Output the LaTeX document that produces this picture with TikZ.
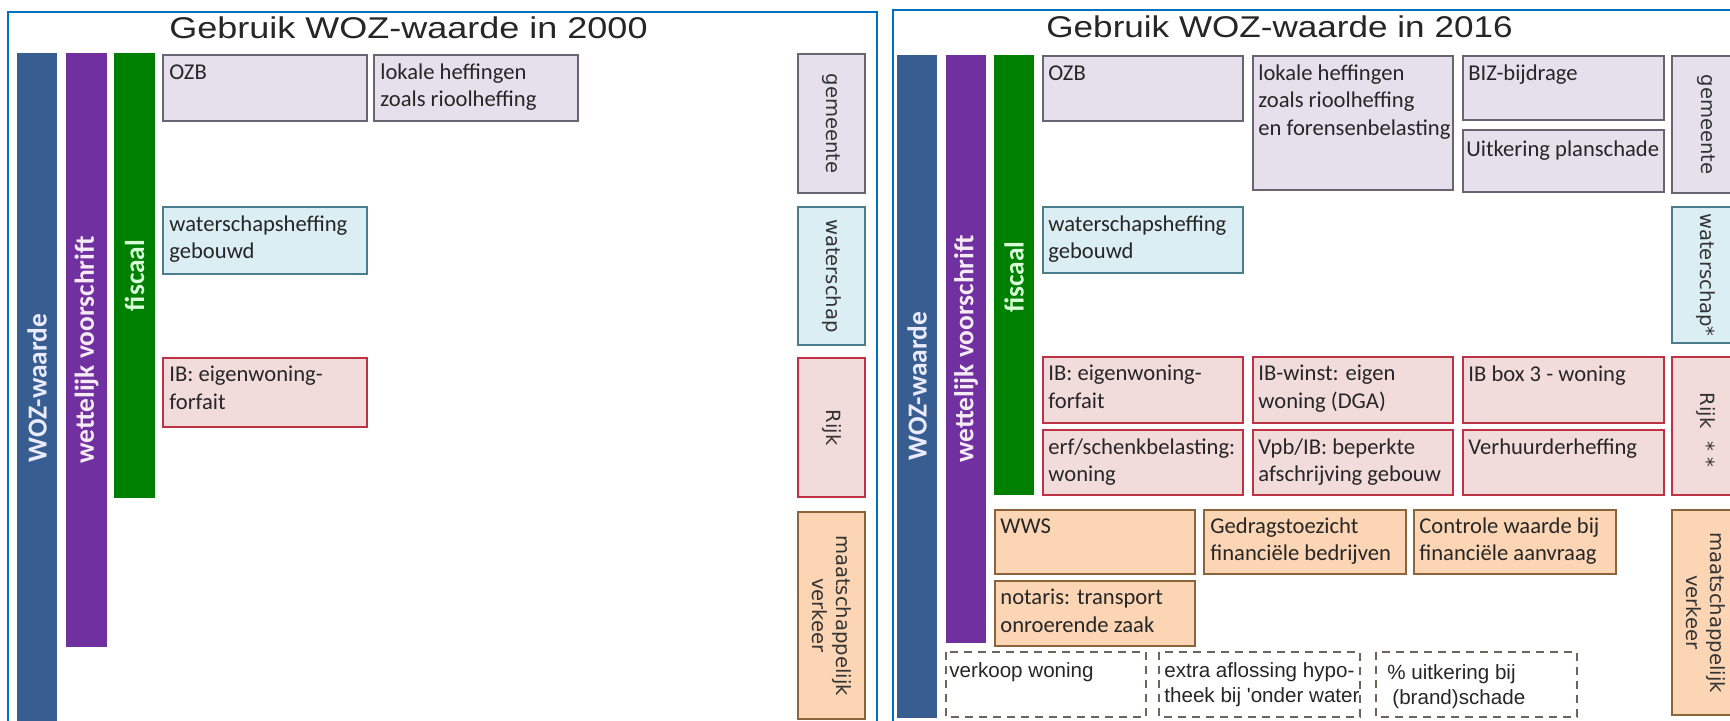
\documentclass[tikz,border=0pt]{standalone}
\usepackage{fontspec}
\setmainfont{Liberation Sans}
\newfontfamily\carlito{Carlito}
\newfontfamily\dejavu{DejaVu Sans}
\newfontfamily\titelfont[FakeStretch=1.2]{Liberation Sans}
\newfontfamily\titelfontB[FakeStretch=1.17]{Liberation Sans}
\definecolor{kaderblauw}{RGB}{0,112,192}
\definecolor{wozblauw}{RGB}{56,94,145}
\definecolor{wetpaars}{RGB}{112,48,160}
\definecolor{fiscgroen}{RGB}{0,128,0}
\definecolor{gemvul}{RGB}{229,224,236}
\definecolor{gemrand}{RGB}{105,100,115}
\definecolor{watvul}{RGB}{219,238,244}
\definecolor{watrand}{RGB}{75,125,140}
\definecolor{rijkvul}{RGB}{242,220,219}
\definecolor{rijkrand}{RGB}{190,50,70}
\definecolor{maatvul}{RGB}{252,213,180}
\definecolor{maatrand}{RGB}{140,100,60}
\definecolor{stiprand}{RGB}{110,100,90}

\begin{document}
\begin{tikzpicture}[x=0.5pt, y=-0.5pt,
    kader/.style={draw=kaderblauw, line width=1pt},
    titel/.style={anchor=base west, inner sep=0, text=black!85, font=\titelfont\fontsize{15}{18}\selectfont},
    vak/.style={line width=1.2pt},
    gem/.style={vak, draw=gemrand, fill=gemvul},
    wat/.style={vak, draw=watrand, fill=watvul},
    rijk/.style={vak, draw=rijkrand, fill=rijkvul},
    maat/.style={vak, draw=maatrand, fill=maatvul},
    stip/.style={draw=stiprand, line width=1.1pt, dash pattern=on 4pt off 3pt},
    tekst/.style={anchor=north west, inner sep=0, align=left, text=black!85,
      execute at begin node={\rule{0pt}{8pt}}, font=\carlito\fontsize{11.3}{13.75}\selectfont},
    stiptekst/.style={tekst, font=\fontsize{10.3}{12.5}\selectfont},
    balk/.style={rotate=90, inner sep=0, font=\carlito\bfseries\fontsize{13.7}{15}\selectfont},
    laag/.style={rotate=-90, align=center, inner sep=0, text=black!80, font=\dejavu\fontsize{9.8}{12}\selectfont}
  ]
  \useasboundingbox (0,0) rectangle (1730,721);
  \clip (0,0) rectangle (1730,721);

  % 2000
  \draw[kader] (8,12) rectangle (877,740);
  \node[titel] (titelA) at (169,39) {Gebruik WOZ-waarde in 2000};
  \fill[wozblauw] (17,53) rectangle (57,730);
  \fill[wetpaars] (66,53) rectangle (107,647);
  \fill[fiscgroen] (114,53) rectangle (155,498);
  \node[balk, text=blue!8] (wozA) at (37,388) {WOZ-waarde};
  \node[balk, text=violet!8] (wetA) at (86.5,350) {wettelijk voorschrift};
  \node[balk, text=green!15] (fiscA) at (134.5,275.5) {fiscaal};
  \draw[gem] (163,55) rectangle (367,121);
  \node[tekst] (ozbA) at (169,63) {OZB};
  \draw[gem] (374,55) rectangle (578,121);
  \node[tekst] (heffA) at (380,63) {lokale heffingen\\zoals rioolheffing};
  \draw[wat] (163,207) rectangle (367,274);
  \node[tekst] (watheffA) at (169,215) {waterschapsheffing\\gebouwd};
  \draw[rijk] (163,358) rectangle (367,427);
  \node[tekst] (forfA) at (169,366) {IB: eigenwoning-\\forfait};
  \draw[gem] (798,54) rectangle (865,193);
  \node[laag] (gemA) at (831.5,123.5) {gemeente};
  \draw[wat] (798,207) rectangle (865,345);
  \node[laag] (watA) at (831.5,276) {waterschap};
  \draw[rijk] (798,358) rectangle (865,497);
  \node[laag] (rijkA) at (831.5,427.5) {Rijk};
  \draw[maat] (798,512) rectangle (865,719);
  \node[laag] (maatA) at (831.5,615.5) {maatschappelijk\\verkeer};

  % 2016
  \draw[kader] (893,10) rectangle (1745,740);
  \node[titel, font=\titelfontB\fontsize{15}{18}\selectfont] (titelB) at (1046,38) {Gebruik WOZ-waarde in 2016};
  \fill[wozblauw] (897,55) rectangle (937,718);
  \fill[wetpaars] (946,55) rectangle (986,643);
  \fill[fiscgroen] (994,55) rectangle (1034,495);
  \node[balk, text=blue!8] (wozB) at (917,386) {WOZ-waarde};
  \node[balk, text=violet!8] (wetB) at (966,349) {wettelijk voorschrift};
  \node[balk, text=green!15] (fiscB) at (1014,277) {fiscaal};
  \draw[gem] (1043,56) rectangle (1243,121);
  \node[tekst] (ozbB) at (1048,64) {OZB};
  \draw[gem] (1253,56) rectangle (1453,190);
  \node[tekst] (heffB) at (1258,64) {lokale heffingen\\zoals rioolheffing\\en forensenbelasting};
  \draw[gem] (1463,56) rectangle (1664,120);
  \node[tekst] (bizB) at (1468,64) {BIZ-bijdrage};
  \draw[gem] (1463,130) rectangle (1664,192);
  \node[tekst] (planB) at (1466,140) {Uitkering planschade};
  \draw[wat] (1043,207) rectangle (1243,273);
  \node[tekst] (watheffB) at (1048,215) {waterschapsheffing\\gebouwd};
  \draw[rijk] (1043,357) rectangle (1243,423);
  \node[tekst] (forfB) at (1048,365) {IB: eigenwoning-\\forfait};
  \draw[rijk] (1253,357) rectangle (1453,423);
  \node[tekst] (dgaB) at (1258,365) {IB-winst: eigen\\woning (DGA)};
  \draw[rijk] (1463,357) rectangle (1664,423);
  \node[tekst] (box3B) at (1468,365) {IB box 3 - woning};
  \draw[rijk] (1043,430) rectangle (1243,495);
  \node[tekst] (erfB) at (1048,438) {erf/schenkbelasting:\\woning};
  \draw[rijk] (1253,430) rectangle (1453,495);
  \node[tekst] (vpbB) at (1258,438) {Vpb/IB: beperkte\\afschrijving gebouw};
  \draw[rijk] (1463,430) rectangle (1664,495);
  \node[tekst] (verhB) at (1468,438) {Verhuurderheffing};
  \draw[maat] (995,510) rectangle (1195,574);
  \node[tekst] (wwsB) at (1000,517) {WWS};
  \draw[maat] (1204,510) rectangle (1406,574);
  \node[tekst] (toezB) at (1210,517) {Gedragstoezicht\\financiële bedrijven};
  \draw[maat] (1414,510) rectangle (1616,574);
  \node[tekst] (contrB) at (1419,517) {Controle waarde bij\\financiële aanvraag};
  \draw[maat] (995,581) rectangle (1195,646);
  \node[tekst] (notB) at (1000,589) {notaris: transport\\onroerende zaak};
  \draw[stip] (946,652) rectangle (1146,717);
  \node[stiptekst] (verkB) at (949,661) {verkoop woning};
  \draw[stip] (1159,652) rectangle (1360,717);
  \node[stiptekst] (aflB) at (1164,662) {extra aflossing hypo-\\theek bij \textquotesingle onder water};
  \draw[stip] (1376,652) rectangle (1577,717);
  \node[stiptekst] (brandB) at (1387,664) {\% uitkering bij\\\hspace*{2.5pt}(brand)schade};
  \draw[gem] (1672,56) rectangle (1745,193);
  \node[laag] (gemB) at (1706,124.5) {gemeente};
  \draw[wat] (1672,207) rectangle (1745,343);
  \node[laag] (watB) at (1706,275) {waterschap*};
  \draw[rijk] (1672,357) rectangle (1745,495);
  \node[laag] (rijkB) at (1706,430) {Rijk~~*~*};
  \draw[maat] (1672,510) rectangle (1745,715);
  \node[laag] (maatB) at (1706,612.5) {maatschappelijk\\verkeer};
\end{tikzpicture}
\end{document}
